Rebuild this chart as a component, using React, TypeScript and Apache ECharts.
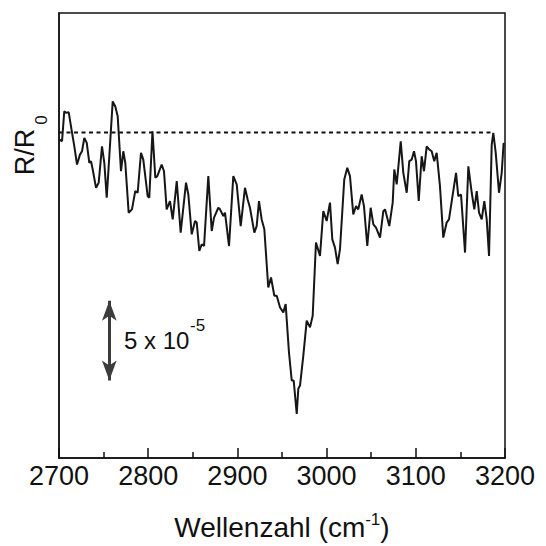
import React, { useEffect, useRef } from "react";
import * as echarts from "echarts";

// Wavenumber (cm^-1) of each traced point
const wavenumber = [
  2700.3, 2703.4, 2705.9, 2707.8, 2710.9, 2714.6, 2717.2, 2720.2, 2723.5, 2725.8,
  2728.4, 2731.1, 2734.0, 2735.9, 2737.8, 2741.5, 2744.5, 2748.2, 2750.8, 2753.5,
  2756.4, 2760.2, 2763.1, 2765.8, 2769.5, 2772.1, 2774.3, 2778.1, 2781.8, 2785.5,
  2788.2, 2791.9, 2794.5, 2799.4, 2801.2, 2804.8, 2808.0, 2810.2, 2815.1, 2817.7,
  2820.7, 2824.4, 2827.5, 2832.0, 2836.4, 2842.4, 2845.0, 2848.8, 2852.5, 2854.4,
  2857.3, 2860.0, 2862.6, 2867.4, 2871.2, 2873.8, 2878.6, 2880.5, 2884.2, 2886.1,
  2890.6, 2895.4, 2899.2, 2903.7, 2908.5, 2911.5, 2914.1, 2919.0, 2921.6, 2924.2,
  2927.2, 2930.2, 2934.6, 2937.7, 2941.4, 2944.1, 2947.8, 2951.5, 2954.1, 2957.8,
  2960.9, 2963.1, 2966.5, 2968.3, 2970.2, 2973.9, 2977.7, 2981.4, 2984.4, 2988.1,
  2992.6, 2996.3, 3000.1, 3003.8, 3006.4, 3009.4, 3012.4, 3015.0, 3019.8, 3023.2,
  3026.2, 3029.9, 3033.0, 3035.5, 3039.3, 3041.9, 3045.6, 3049.4, 3052.4, 3055.4,
  3059.9, 3063.6, 3065.5, 3070.3, 3074.1, 3075.9, 3078.6, 3083.1, 3086.0, 3089.8,
  3092.7, 3095.4, 3098.0, 3100.2, 3103.3, 3106.6, 3109.2, 3112.2, 3115.1, 3117.8,
  3120.7, 3123.4, 3127.1, 3130.8, 3134.6, 3137.2, 3142.0, 3145.1, 3147.6, 3150.7,
  3155.2, 3158.9, 3162.7, 3165.6, 3168.3, 3170.9, 3173.9, 3176.8, 3179.5, 3182.1,
  3185.1, 3186.9, 3189.6, 3193.3, 3196.3, 3198.5,
];

// R/R0 relative to the dashed reference level, in units of 1e-5
const signal = [
  -0.44, -0.54, 1.33, 1.25, 1.27, 0.0, -0.86, -2.0, -1.38, -1.17,
  -0.33, -0.64, -1.89, -1.79, -2.31, -3.46, -3.14, -0.86, -1.89, -4.08,
  -1.48, 1.96, 1.64, 1.02, -2.42, -1.17, -1.89, -5.02, -4.81, -3.67,
  -3.77, -1.27, -1.69, -3.98, -4.08, 0.09, -2.83, -2.73, -2.0, -2.42,
  -4.81, -4.29, -5.44, -3.04, -6.27, -3.14, -3.88, -6.38, -5.54, -5.64,
  -7.42, -7.0, -7.11, -2.73, -6.17, -5.33, -4.71, -4.81, -5.23, -5.02,
  -7.11, -2.73, -3.25, -5.86, -3.46, -4.19, -4.71, -6.27, -5.86, -4.29,
  -5.44, -6.06, -9.71, -9.08, -10.23, -10.23, -10.96, -11.27, -10.75, -13.77,
  -15.54, -15.54, -17.63, -16.06, -15.86, -13.98, -11.79, -12.21, -11.48, -6.89,
  -7.73, -4.92, -5.54, -4.39, -6.69, -7.21, -8.25, -7.31, -2.94, -2.21,
  -2.73, -5.13, -4.61, -4.81, -3.88, -4.61, -7.11, -4.71, -5.75, -5.96,
  -6.58, -4.92, -4.81, -5.86, -4.39, -2.31, -3.25, -0.54, -2.52, -3.77,
  -1.79, -1.69, -1.17, -1.79, -4.29, -1.48, -2.42, -0.86, -1.06, -1.17,
  -1.79, -1.27, -3.36, -6.58, -5.64, -5.44, -3.67, -2.52, -3.98, -3.88,
  -7.52, -2.11, -3.77, -4.81, -3.67, -5.02, -5.44, -4.29, -5.44, -7.73,
  -0.75, -0.02, -1.27, -3.77, -2.52, -0.64,
];

// Dashed reference level
const baselineX = [2700, 3187];
const baselineY = [0, 0];

// Scale bar: 5 x 10^-5
const scaleBarX = 2756.4;
const scaleBarTop = -10.54;
const scaleBarLength = 5;

const xMin = 2700;
const xMax = 3200;
const xInterval = 100;
const yMin = -20.4;
const yMax = 7.5;

const FONT = "'Liberation Sans', Arial, Helvetica, sans-serif";

export default function App() {
  const ref = useRef<HTMLDivElement>(null);

  useEffect(() => {
    if (!ref.current) return;
    const chart = echarts.init(ref.current, null, { renderer: "svg" });
    const curve = wavenumber.map((x, i) => [x, signal[i]]);
    const base = baselineX.map((x, i) => [x, baselineY[i]]);

    chart.setOption({
      animation: false,
      backgroundColor: "#ffffff",
      grid: {
        left: 59,
        right: 41,
        top: 13,
        bottom: 86,
        show: true,
        borderColor: "#111",
        borderWidth: 1.5,
        backgroundColor: "transparent",
      },
      xAxis: {
        type: "value",
        min: xMin,
        max: xMax,
        interval: xInterval,
        name: "{a|Wellenzahl (cm}{s|-1}{a|)}",
        nameLocation: "middle",
        nameGap: 53,
        nameTextStyle: {
          rich: {
            a: { fontFamily: FONT, fontSize: 28, color: "#111", lineHeight: 32 },
            s: { fontFamily: FONT, fontSize: 17, color: "#111", verticalAlign: "top", lineHeight: 17 },
          },
        },
        axisLine: { show: true, onZero: false, lineStyle: { color: "#111", width: 1.5 } },
        axisTick: { show: true, inside: true, length: 10, lineStyle: { color: "#111", width: 1.5 } },
        minorTick: { show: true, splitNumber: 2, length: 6, lineStyle: { color: "#111", width: 1.5 } },
        splitLine: { show: false },
        axisLabel: {
          fontFamily: FONT,
          fontSize: 27,
          color: "#111",
          margin: 4,
          showMinLabel: true,
          showMaxLabel: true,
          formatter: (v: number) => String(v),
        },
      },
      yAxis: {
        type: "value",
        min: yMin,
        max: yMax,
        axisLine: { show: true, lineStyle: { color: "#111", width: 1.5 } },
        axisTick: { show: false },
        axisLabel: { show: false },
        splitLine: { show: false },
      },
      series: [
        {
          type: "line",
          data: base,
          symbol: "none",
          lineStyle: { color: "#111", width: 2, type: [4, 3.5] },
          silent: true,
          z: 2,
        },
        {
          type: "line",
          data: curve,
          symbol: "none",
          lineStyle: { color: "#161616", width: 2 },
          silent: true,
          z: 3,
          markLine: {
            silent: true,
            symbol: ["arrow", "arrow"],
            symbolSize: [11, 20],
            label: { show: false },
            lineStyle: { color: "#3c3c3c", width: 3, type: "solid" },
            data: [
              [
                { coord: [scaleBarX, scaleBarTop] },
                { coord: [scaleBarX, scaleBarTop - scaleBarLength] },
              ],
            ],
          },
        },
      ],
      graphic: [
        {
          type: "text",
          x: 25,
          y: 152,
          rotation: Math.PI / 2,
          style: {
            text: "R/R",
            fontFamily: FONT,
            fontSize: 27,
            fill: "#111",
            align: "center",
            verticalAlign: "middle",
          },
        },
        {
          type: "text",
          x: 41,
          y: 120,
          rotation: Math.PI / 2,
          style: {
            text: "0",
            fontFamily: FONT,
            fontSize: 17,
            fill: "#111",
            align: "center",
            verticalAlign: "middle",
          },
        },
        {
          type: "text",
          x: 124,
          y: 340,
          style: {
            text: "5 x 10",
            fontFamily: FONT,
            fontSize: 24,
            fill: "#111",
            align: "left",
            verticalAlign: "middle",
          },
        },
        {
          type: "text",
          x: 190,
          y: 325,
          style: {
            text: "-5",
            fontFamily: FONT,
            fontSize: 17,
            fill: "#111",
            align: "left",
            verticalAlign: "middle",
          },
        },
      ],
    });

    return () => chart.dispose();
  }, []);

  return (
    <div
      ref={ref}
      style={{ position: "fixed", left: 0, top: 0, width: 546, height: 546, background: "#fff" }}
    />
  );
}
